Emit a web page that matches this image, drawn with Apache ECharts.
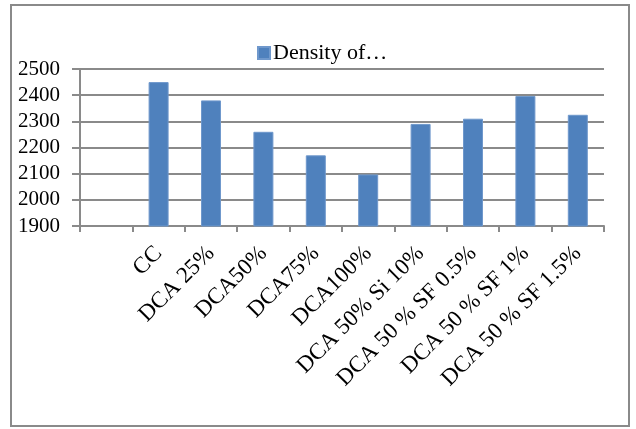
<!DOCTYPE html>
<html>
<head>
<meta charset="utf-8">
<script src="https://cdn.jsdelivr.net/npm/echarts@6/dist/echarts.min.js"></script>
<style>
  html, body { margin: 0; padding: 0; background: #fff; }
  #chart { width: 636px; height: 429px; }
</style>
</head>
<body>
<div id="chart"></div>
<script>
// Mix labels (first slot left blank, as in the worksheet)
const categories = ['', 'CC', 'DCA 25%', 'DCA50%', 'DCA75%', 'DCA100%',
  'DCA 50% Si 10%', 'DCA 50 % SF 0.5%', 'DCA 50 % SF 1%', 'DCA 50 % SF 1.5%'];
// Density values (kg/m3)
const density = [null, 2450, 2380, 2260, 2170, 2097, 2290, 2310, 2397, 2325];
const seriesName = 'Density of…';
const yMin = 1900, yMax = 2500, yStep = 100;

const FONT = '"Liberation Serif", "Times New Roman", serif';
const GRAY = '#8a8a8a';

const chart = echarts.init(document.getElementById('chart'), null, { renderer: 'canvas' });
chart.setOption({
  animation: false,
  backgroundColor: '#ffffff',
  graphic: [{
    type: 'rect',
    shape: { x: 11, y: 5, width: 618, height: 421 },
    style: { fill: 'none', stroke: GRAY, lineWidth: 2 },
    silent: true
  }],
  legend: {
    data: [seriesName],
    left: 252,
    top: 37,
    icon: 'rect',
    itemWidth: 12,
    itemHeight: 12,
    itemGap: 4,
    textStyle: { fontFamily: FONT, fontSize: 22, color: '#000', padding: [0, 0, 0, -2] }
  },
  grid: { left: 80, right: 32, top: 69, bottom: 203, containLabel: false },
  xAxis: {
    type: 'category',
    data: categories,
    boundaryGap: true,
    axisLine: { lineStyle: { color: GRAY, width: 2 } },
    axisTick: { show: true, length: 6, lineStyle: { color: GRAY, width: 2 } },
    axisLabel: {
      interval: 0,
      rotate: 45,
      margin: 24,
      fontFamily: FONT,
      fontSize: 23,
      color: '#000'
    },
    splitLine: { show: false }
  },
  yAxis: {
    type: 'value',
    min: yMin,
    max: yMax,
    interval: yStep,
    axisLine: { show: true, lineStyle: { color: GRAY, width: 2 } },
    axisTick: { show: true, length: 8, lineStyle: { color: GRAY, width: 2 } },
    axisLabel: {
      margin: 20,
      fontFamily: FONT,
      fontSize: 21,
      color: '#000',
      padding: [6, 0, 0, 0],
      formatter: v => String(v)
    },
    splitLine: { show: true, lineStyle: { color: GRAY, width: 2 } }
  },
  series: [{
    name: seriesName,
    type: 'bar',
    data: density,
    barWidth: 20,
    itemStyle: { color: '#4f81bd', borderColor: '#6f98cc', borderWidth: 1 }
  }]
});
</script>
</body>
</html>
